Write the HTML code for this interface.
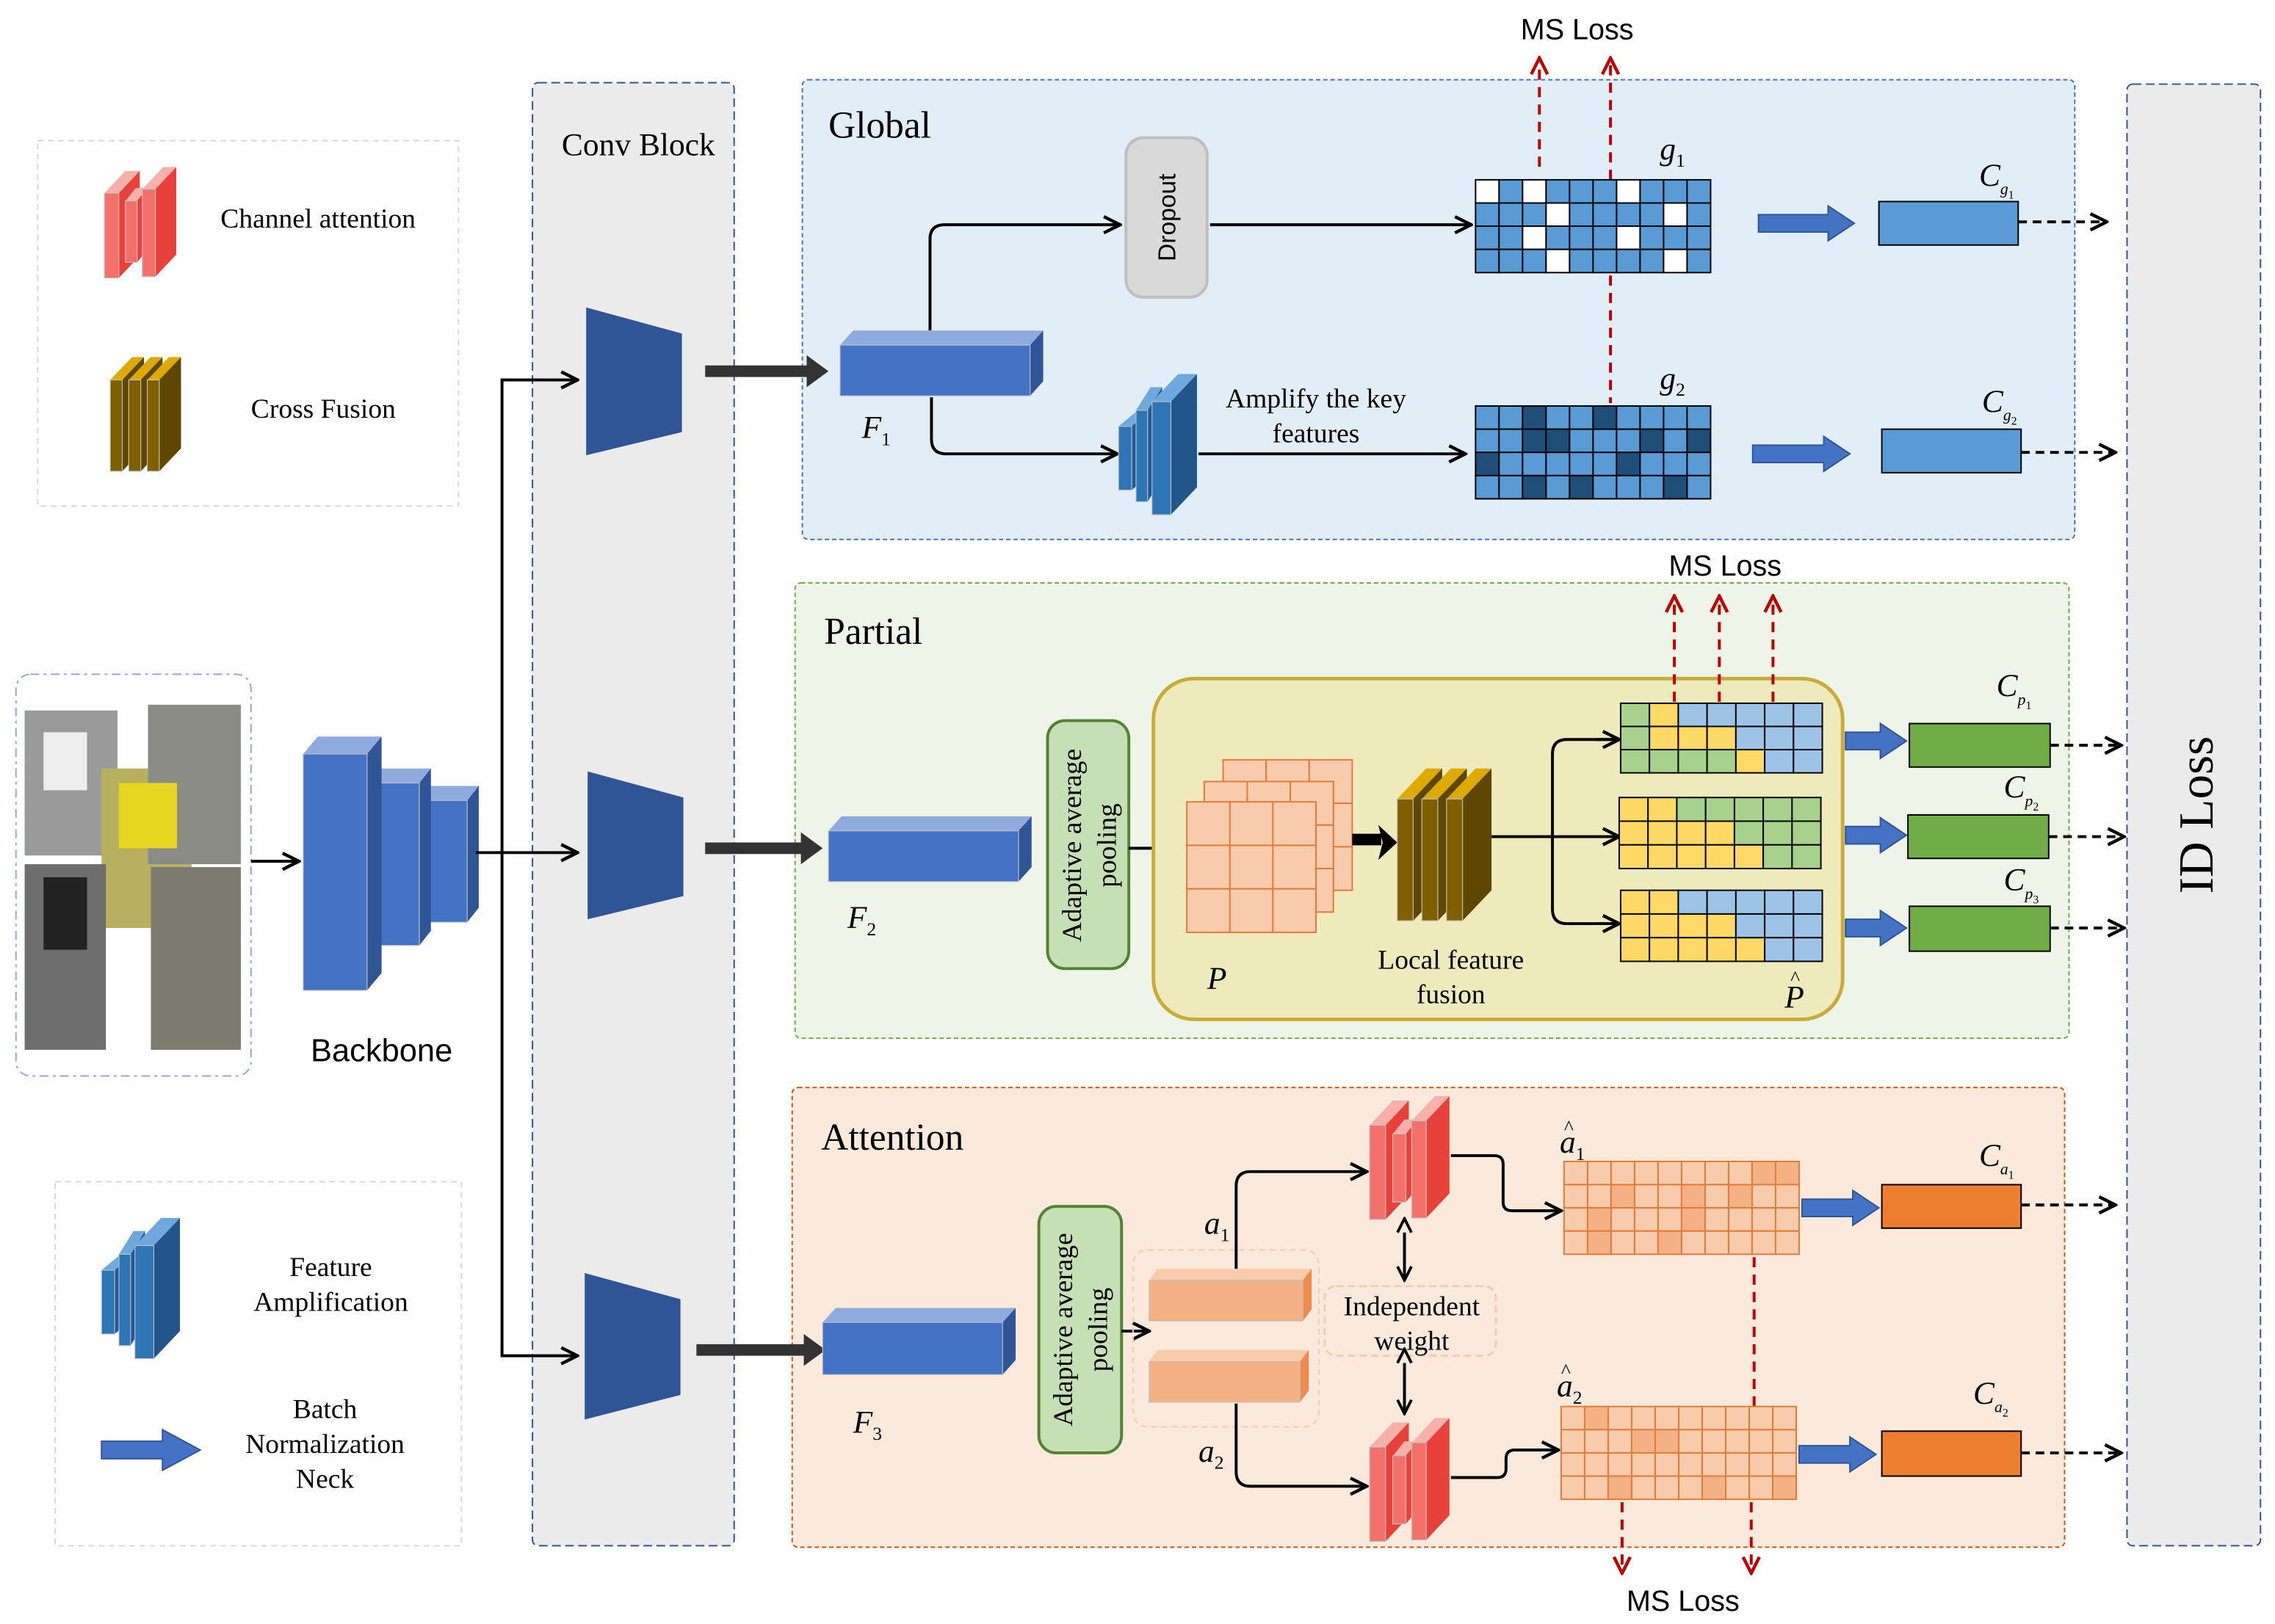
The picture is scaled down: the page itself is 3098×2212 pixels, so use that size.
<!DOCTYPE html>
<html><head><meta charset="utf-8"><style>
html,body{margin:0;padding:0;background:#fff;}
svg{display:block;}
.s{font-family:"Liberation Serif",serif;}
.a{font-family:"Liberation Sans",sans-serif;}
</style></head><body>
<svg id="sv" width="3098" height="2212" viewBox="0 0 1568 1120" preserveAspectRatio="none" xmlns="http://www.w3.org/2000/svg">
<defs>
<marker id="ah" viewBox="0 0 10 10" refX="9" refY="5" markerWidth="7" markerHeight="7" orient="auto"><path d="M1,1 L9,5 L1,9" fill="none" stroke="#000" stroke-width="1.6"/></marker>
<marker id="ar" viewBox="0 0 10 10" refX="9" refY="5" markerWidth="7" markerHeight="7" orient="auto"><path d="M1,1 L9,5 L1,9" fill="none" stroke="#c00000" stroke-width="1.6"/></marker>
<marker id="ab" viewBox="0 0 10 10" refX="9" refY="5" markerWidth="6" markerHeight="6" orient="auto"><path d="M1,1 L9,5 L1,9" fill="none" stroke="#000" stroke-width="1.6"/></marker>
<marker id="as" viewBox="0 0 10 10" refX="1" refY="5" markerWidth="6" markerHeight="6" orient="auto-start-reverse"><path d="M1,1 L9,5 L1,9" fill="none" stroke="#000" stroke-width="1.6"/></marker>
</defs>

<rect x="26" y="97" width="290" height="252" fill="#fff" stroke="#d9d9d9" stroke-dasharray="4,3"/>
<rect x="38" y="815" width="280" height="251" fill="#fff" stroke="#d9d9d9" stroke-dasharray="4,3"/>
<text class="s" x="152" y="157" font-size="19">Channel attention</text>
<text class="s" x="173" y="288" font-size="19">Cross Fusion</text>
<text class="s" x="228" y="880" font-size="19" text-anchor="middle">Feature</text>
<text class="s" x="228" y="904" font-size="19" text-anchor="middle">Amplification</text>
<text class="s" x="224" y="978" font-size="19" text-anchor="middle">Batch</text>
<text class="s" x="224" y="1002" font-size="19" text-anchor="middle">Normalization</text>
<text class="s" x="224" y="1026" font-size="19" text-anchor="middle">Neck</text>
<path d="M70,994 H112 V986 L138,1000 L112,1014 V1006 H70 Z" fill="#4472c4" stroke="#2f5597"/>

<rect x="11" y="465" width="162" height="277" rx="10" fill="#fff" stroke="#8faadc" stroke-dasharray="6,3,2,3"/>
<rect x="17" y="490" width="64" height="100" fill="#9a9a9a"/>
<rect x="70" y="530" width="62" height="110" fill="#b8b060"/>
<rect x="102" y="486" width="64" height="110" fill="#8c8c86"/>
<rect x="17" y="596" width="56" height="128" fill="#6e6e6e"/>
<rect x="104" y="598" width="62" height="126" fill="#7d7a70"/>
<rect x="30" y="605" width="30" height="50" fill="#222"/>
<rect x="82" y="540" width="40" height="45" fill="#e6d620"/>
<rect x="30" y="505" width="30" height="40" fill="#eee"/>

<g id="bb"></g>
<text class="a" x="263" y="732" font-size="22" text-anchor="middle">Backbone</text>
<line x1="173" y1="594" x2="206" y2="594" stroke="#000" stroke-width="2" marker-end="url(#ah)"/>

<rect x="367" y="57" width="139" height="1009" rx="4" fill="#ebebeb" stroke="#2f5597" stroke-dasharray="6,3"/>
<text class="s" x="440" y="107" font-size="22" text-anchor="middle">Conv Block</text>
<rect x="1466" y="58" width="92" height="1008" rx="4" fill="#ebebeb" stroke="#2f5597" stroke-dasharray="6,3"/>
<text class="s" x="1525" y="562" font-size="34" text-anchor="middle" transform="rotate(-90 1525 562)">ID Loss</text>

<path d="M328,588 H398" stroke="#000" stroke-width="2" fill="none" marker-end="url(#ah)"/>
<path d="M398,262 H346 V935 H398" stroke="#000" stroke-width="2" fill="none" marker-end="url(#ah)"/>
<path d="M346,262 H398" stroke="#000" stroke-width="2" fill="none" marker-end="url(#ah)"/>
<polygon points="404,212 470,230 470,298 404,314" fill="#2f5597"/>
<polygon points="405,532 471,550 471,618 405,634" fill="#2f5597"/>
<polygon points="403,878 469,896 469,962 403,979" fill="#2f5597"/>

<rect x="553" y="55" width="877" height="317" rx="4" fill="#e1edf7" stroke="#4472c4" stroke-dasharray="3,2"/>
<text class="s" x="571" y="95" font-size="26">Global</text>
<rect x="776" y="95" width="56" height="110" rx="12" fill="#d9d9d9" stroke="#bfbfbf" stroke-width="2"/>
<text class="a" x="810" y="150" font-size="17" text-anchor="middle" transform="rotate(-90 810 150)">Dropout</text>
<path d="M641,228 V165 Q641,155 651,155 H772" stroke="#000" stroke-width="2" fill="none" marker-end="url(#ah)"/>
<path d="M834,155 H1014" stroke="#000" stroke-width="2" fill="none" marker-end="url(#ah)"/>
<path d="M642,274 V303 Q642,313 652,313 H770" stroke="#000" stroke-width="2" fill="none" marker-end="url(#ah)"/>
<path d="M826,313 H1010" stroke="#000" stroke-width="2" fill="none" marker-end="url(#ah)"/>
<text class="s" x="907" y="281" font-size="19" text-anchor="middle">Amplify the key</text>
<text class="s" x="907" y="305" font-size="19" text-anchor="middle">features</text>
<text class="s" x="594" y="302" font-size="22" font-style="italic">F<tspan font-size="13" dy="5" font-style="normal">1</tspan></text>
<text class="s" x="1144" y="110" font-size="22" font-style="italic">g<tspan font-size="13" dy="5" font-style="normal">1</tspan></text>
<text class="s" x="1144" y="268" font-size="22" font-style="italic">g<tspan font-size="13" dy="5" font-style="normal">2</tspan></text>
<g stroke="#c00000" stroke-width="2" stroke-dasharray="7,5" fill="none">
<path d="M1061,115 V40" marker-end="url(#ar)"/>
<path d="M1110,124 V40" marker-end="url(#ar)"/>
<path d="M1110,190 V278"/>
</g>
<text class="a" x="1087" y="27" font-size="20" text-anchor="middle">MS Loss</text>
<rect x="1295" y="139" width="96" height="30" fill="#5b9bd5" stroke="#000"/>
<rect x="1297" y="296" width="96" height="30" fill="#5b9bd5" stroke="#000"/>
<text class="s" x="1364" y="128" font-size="22" font-style="italic">C<tspan font-size="11" dy="6">g</tspan><tspan font-size="8" dy="3" font-style="normal">1</tspan></text>
<text class="s" x="1366" y="284" font-size="22" font-style="italic">C<tspan font-size="11" dy="6">g</tspan><tspan font-size="8" dy="3" font-style="normal">2</tspan></text>

<rect x="548" y="402" width="878" height="314" rx="4" fill="#eef4e8" stroke="#70ad47" stroke-dasharray="3,2"/>
<text class="s" x="568" y="444" font-size="26">Partial</text>
<rect x="722" y="497" width="56" height="171" rx="12" fill="#c5e0b4" stroke="#548235" stroke-width="2"/>
<text class="s" x="745" y="583" font-size="19" text-anchor="middle" transform="rotate(-90 745 583)">Adaptive average</text>
<text class="s" x="769" y="583" font-size="19" text-anchor="middle" transform="rotate(-90 769 583)">pooling</text>
<path d="M778,585 H814" stroke="#000" stroke-width="2" fill="none" marker-end="url(#ah)"/>
<rect x="795" y="468" width="475" height="235" rx="28" fill="#efeabb" stroke="#c9ab3a" stroke-width="2.5"/>
<g id="pstack"></g>
<path d="M932,579 H952" stroke="#000" stroke-width="8"/>
<polygon points="950,569 963,581 950,593 953,581" fill="#000"/>
<path d="M1028,577 H1116" stroke="#000" stroke-width="2" fill="none" marker-end="url(#ah)"/>
<path d="M1116,510 H1080 Q1070,510 1070,520 V627 Q1070,637 1080,637 H1116" stroke="#000" stroke-width="2" fill="none"/>
<path d="M1100,510 H1116" stroke="#000" stroke-width="2" fill="none" marker-end="url(#ah)"/>
<path d="M1100,637 H1116" stroke="#000" stroke-width="2" fill="none" marker-end="url(#ah)"/>
<text class="s" x="1000" y="668" font-size="19" text-anchor="middle">Local feature</text>
<text class="s" x="1000" y="692" font-size="19" text-anchor="middle">fusion</text>
<text class="s" x="832" y="682" font-size="22" font-style="italic">P</text>
<text class="s" x="1230" y="695" font-size="22" font-style="italic">P</text>
<text class="s" x="1234" y="679" font-size="14">^</text>
<g stroke="#c00000" stroke-width="2" stroke-dasharray="7,5" fill="none">
<path d="M1154,484 V411" marker-end="url(#ar)"/>
<path d="M1185,484 V411" marker-end="url(#ar)"/>
<path d="M1222,484 V411" marker-end="url(#ar)"/>
</g>
<text class="a" x="1189" y="397" font-size="20" text-anchor="middle">MS Loss</text>
<rect x="1316" y="499" width="97" height="30" fill="#70ad47" stroke="#000"/>
<rect x="1315" y="562" width="97" height="30" fill="#70ad47" stroke="#000"/>
<rect x="1316" y="625" width="97" height="31" fill="#70ad47" stroke="#000"/>
<text class="s" x="1376" y="480" font-size="22" font-style="italic">C<tspan font-size="11" dy="6">p</tspan><tspan font-size="8" dy="3" font-style="normal">1</tspan></text>
<text class="s" x="1381" y="550" font-size="22" font-style="italic">C<tspan font-size="11" dy="6">p</tspan><tspan font-size="8" dy="3" font-style="normal">2</tspan></text>
<text class="s" x="1381" y="614" font-size="22" font-style="italic">C<tspan font-size="11" dy="6">p</tspan><tspan font-size="8" dy="3" font-style="normal">3</tspan></text>
<text class="s" x="584" y="640" font-size="22" font-style="italic">F<tspan font-size="13" dy="5" font-style="normal">2</tspan></text>

<rect x="546" y="750" width="877" height="317" rx="4" fill="#fbe9dc" stroke="#c55a11" stroke-dasharray="3,2"/>
<text class="s" x="566" y="793" font-size="26">Attention</text>
<rect x="716" y="832" width="57" height="170" rx="12" fill="#c5e0b4" stroke="#548235" stroke-width="2"/>
<text class="s" x="739" y="917" font-size="19" text-anchor="middle" transform="rotate(-90 739 917)">Adaptive average</text>
<text class="s" x="763" y="917" font-size="19" text-anchor="middle" transform="rotate(-90 763 917)">pooling</text>
<path d="M773,918 H792" stroke="#000" stroke-width="2" fill="none" marker-end="url(#ah)"/>
<rect x="781" y="862" width="128" height="122" rx="10" fill="none" stroke="#f8cbad" stroke-dasharray="4,3"/>
<rect x="913" y="887" width="118" height="48" rx="8" fill="none" stroke="#f8cbad" stroke-width="1.5" stroke-dasharray="5,3"/>
<text class="s" x="973" y="907" font-size="19" text-anchor="middle">Independent</text>
<text class="s" x="973" y="931" font-size="19" text-anchor="middle">weight</text>
<path d="M968,850 V883" stroke="#000" stroke-width="2" marker-start="url(#as)" marker-end="url(#ab)"/>
<path d="M968,940 V975" stroke="#000" stroke-width="2" marker-start="url(#as)" marker-end="url(#ab)"/>
<path d="M852,878 V818 Q852,808 862,808 H942" stroke="#000" stroke-width="2" fill="none" marker-end="url(#ah)"/>
<path d="M852,968 V1015 Q852,1025 862,1025 H942" stroke="#000" stroke-width="2" fill="none" marker-end="url(#ah)"/>
<path d="M1000,797 H1030 Q1036,797 1036,803 V829 Q1036,835 1042,835 H1076" stroke="#000" stroke-width="2" fill="none" marker-end="url(#ah)"/>
<path d="M1000,1019 H1032 Q1038,1019 1038,1013 V1006 Q1038,1000 1044,1000 H1074" stroke="#000" stroke-width="2" fill="none" marker-end="url(#ah)"/>
<text class="s" x="1075" y="795" font-size="22" font-style="italic">a<tspan font-size="13" dy="5" font-style="normal">1</tspan></text>
<text class="s" x="1078" y="782" font-size="14">^</text>
<text class="s" x="1073" y="963" font-size="22" font-style="italic">a<tspan font-size="13" dy="5" font-style="normal">2</tspan></text>
<text class="s" x="1076" y="950" font-size="14">^</text>
<text class="s" x="830" y="851" font-size="22" font-style="italic">a<tspan font-size="13" dy="5" font-style="normal">1</tspan></text>
<text class="s" x="826" y="1008" font-size="22" font-style="italic">a<tspan font-size="13" dy="5" font-style="normal">2</tspan></text>
<text class="s" x="588" y="988" font-size="22" font-style="italic">F<tspan font-size="13" dy="5" font-style="normal">3</tspan></text>
<g stroke="#c00000" stroke-width="2" stroke-dasharray="7,5" fill="none">
<path d="M1209,867 V970"/>
<path d="M1118,1036 V1085" marker-end="url(#ar)"/>
<path d="M1207,1036 V1085" marker-end="url(#ar)"/>
</g>
<text class="a" x="1160" y="1111" font-size="20" text-anchor="middle">MS Loss</text>
<rect x="1297" y="817" width="96" height="30" fill="#ed7d31" stroke="#000"/>
<rect x="1297" y="987" width="96" height="31" fill="#ed7d31" stroke="#000"/>
<text class="s" x="1364" y="804" font-size="22" font-style="italic">C<tspan font-size="11" dy="6">a</tspan><tspan font-size="8" dy="3" font-style="normal">1</tspan></text>
<text class="s" x="1360" y="968" font-size="22" font-style="italic">C<tspan font-size="11" dy="6">a</tspan><tspan font-size="8" dy="3" font-style="normal">2</tspan></text>

<g fill="#333">
<path d="M486,252 H556 V245 L571,256 L556,267 V260 H486 Z"/>
<path d="M486,581 H552 V574 L567,585 L552,596 V589 H486 Z"/>
<path d="M480,927 H554 V920 L569,931 L554,942 V935 H480 Z"/>
</g>

<g stroke="#000" stroke-width="2" stroke-dasharray="6,4" fill="none">
<path d="M1391,153 H1452" marker-end="url(#ah)"/>
<path d="M1393,312 H1458" marker-end="url(#ah)"/>
<path d="M1413,514 H1462" marker-end="url(#ah)"/>
<path d="M1412,577 H1464" marker-end="url(#ah)"/>
<path d="M1413,640 H1464" marker-end="url(#ah)"/>
<path d="M1393,831 H1458" marker-end="url(#ah)"/>
<path d="M1393,1002 H1462" marker-end="url(#ah)"/>
</g>
<g id="dyn"></g>
</svg>
<script>
var NS="http://www.w3.org/2000/svg",D=document.getElementById("dyn");
function el(t,a,p){var e=document.createElementNS(NS,t);for(var k in a)e.setAttribute(k,a[k]);(p||D).appendChild(e);return e;}
function grid(x,y,w,h,rows,colf,stroke){var R=rows.length,C=rows[0].length,cw=w/C,ch=h/R;
 for(var r=0;r<R;r++)for(var c=0;c<C;c++)el("rect",{x:x+c*cw,y:y+r*ch,width:cw,height:ch,fill:colf[rows[r][c]],stroke:stroke,"stroke-width":1});}
function box3(x,y,w,h,d,dy,f,t,s,g){
 el("polygon",{points:[x,y,x+d,y-dy,x+w+d,y-dy,x+w,y].join(","),fill:t},g);
 el("polygon",{points:[x+w,y,x+w+d,y-dy,x+w+d,y+h-dy,x+w,y+h].join(","),fill:s},g);
 el("rect",{x:x,y:y,width:w,height:h,fill:f,stroke:"#bfbfbf","stroke-width":0.6},g);}
var blue={a:"#5b9bd5",w:"#ffffff",d:"#1f4e79"};
grid(1017,124,162,64,["wawaaawaaa","aaawaaaawa","aawaaawaaa","aaawaaaawa"],blue,"#000");
grid(1017,280,162,64,["aadaadaaaa","aaddaaadad","daaaaadaaa","aadadaaada"],blue,"#000");
var pc={G:"#a9d18e",Y:"#ffd966",B:"#9dc3e6"};
grid(1117,485,139,48,["GYBBBBB","GYYYBBB","GGGGYBB"],pc,"#000");
grid(1116,550,139,49,["YYGGGGG","YYYYGGG","YYYYYGG"],pc,"#000");
grid(1117,614,139,49,["YYBBBBB","YYYYBBB","YYYYYBB"],pc,"#000");
var oc={l:"#f8cbad",d:"#f4b183"};
grid(1078,801,162,64,["lllllllldd","lldlldldll","ldllldllll","ldlldlllll"],oc,"#e07b39");
grid(1076,970,162,64,["ldllllllll","lllddlllll","llllllllll","lldllldlld"],oc,"#e07b39");
function bn(x1,x2,y){el("path",{d:"M"+x1+","+(y-6)+" H"+(x2-18)+" V"+(y-12)+" L"+x2+","+y+" L"+(x2-18)+","+(y+12)+" V"+(y+6)+" H"+x1+" Z",fill:"#4472c4",stroke:"#2f5597"});}
bn(1212,1278,154);bn(1208,1275,313);bn(1272,1314,511);bn(1272,1314,576);bn(1272,1314,640);bn(1242,1295,833);bn(1240,1293,1003);
var bb=document.getElementById("bb");
box3(289,552,33,84,8,10,"#4472c4","#8faadc","#2f5597",bb);
box3(253,540,36,112,8,10,"#4472c4","#8faadc","#2f5597",bb);
box3(209,520,44,163,10,12,"#4472c4","#8faadc","#2f5597",bb);
box3(579,238,131,35,9,10,"#4472c4","#8faadc","#2f5597",D);
box3(571,573,131,35,9,10,"#4472c4","#8faadc","#2f5597",D);
box3(567,912,124,36,9,10,"#4472c4","#8faadc","#2f5597",D);
box3(792,883,106,28,6,8,"#f4b183","#f8cbad","#ed8a4c",D);
box3(792,939,104,28,6,8,"#f4b183","#f8cbad","#ed8a4c",D);
function famp(x,y){ // x,y = 771,277 reference
 box3(x,y+17,9,44,12,10,"#2e75b6","#6fa8dc","#1f5b99",D);
 box3(x+12,y+6,8,63,10,16,"#2e75b6","#6fa8dc","#1f5b99",D);
 box3(x+23,y,13,78,18,19,"#2e75b6","#6fa8dc","#22558a",D);}
famp(771,277); famp(70,859);
function chan(x,y,k){ // x,y = 944,758
 box3(x,y+18*k,11*k,65*k,16*k,17*k,"#f4716b","#f8b0aa","#e8403a",D);
 box3(x+16*k,y+24*k,9*k,47*k,8*k,10*k,"#f4716b","#f8b0aa","#e8403a",D);
 box3(x+29*k,y+15*k,10*k,67*k,16*k,17*k,"#f4716b","#f8b0aa","#e8403a",D);}
chan(944,758,1); chan(944,980,1); chan(72,117,0.9);
function cf(x,y,k){for(var i=0;i<3;i++)box3(x+i*17*k,y,11*k,84*k,20*k,21*k,"#7f6000","#dfaa00","#5e4700",D);}
cf(963,551,1); cf(76,262,0.75);
var ps=document.getElementById("pstack");
function pg(x,y){var old=D;D=ps;grid(x,y,89,90,["lll","lll","lll"],{l:"#f8cbad"},"#e07b39");D=old;}
pg(843,524);pg(830,539);pg(818,553);
</script>
</body></html>
